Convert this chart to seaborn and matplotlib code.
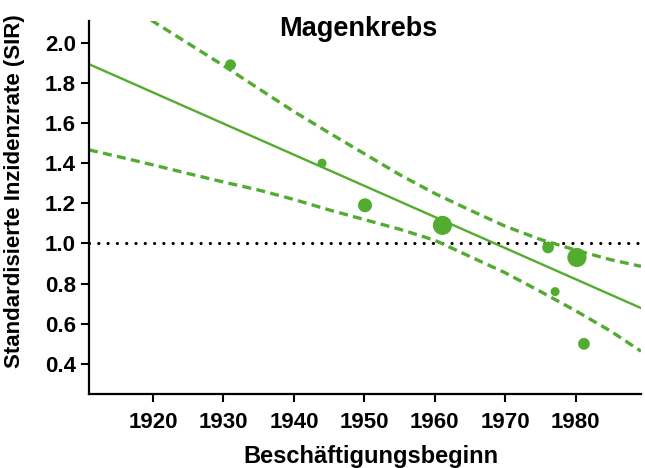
import matplotlib
matplotlib.use("Agg")
import matplotlib.pyplot as plt
import seaborn as sns
import pandas as pd

# Beobachtete SIR je Beschäftigungsbeginn (Punktgröße ~ Fallzahl)
jahr = [1931.0, 1944.0, 1950.1, 1961.1, 1976.1, 1980.2, 1977.1, 1981.2]
sir = [1.89, 1.40, 1.19, 1.09, 0.98, 0.93, 0.76, 0.50]
faelle = [6, 4, 10, 19, 7, 19, 4, 7]

# Regressionsgerade
fit_jahr = [1910.9, 1989.3]
fit_sir = [1.893, 0.678]

# obere / untere Konfidenzgrenze
ki_oben_jahr = [1918, 1925, 1930, 1935, 1940, 1945, 1950, 1955, 1960,
                1965, 1970, 1975, 1980, 1985, 1989.3]
ki_oben_sir = [2.15, 1.996, 1.886, 1.771, 1.657, 1.551, 1.447, 1.343, 1.249,
               1.166, 1.086, 1.020, 0.967, 0.919, 0.886]
ki_unten_jahr = [1910.9, 1915, 1920, 1925, 1930, 1935, 1940, 1945, 1950,
                 1955, 1960, 1965, 1970, 1975, 1980, 1985, 1989.3]
ki_unten_sir = [1.466, 1.433, 1.391, 1.348, 1.306, 1.266, 1.219, 1.167, 1.119,
                1.071, 1.016, 0.935, 0.854, 0.761, 0.665, 0.563, 0.463]

referenz = 1.0
y_ticks = [0.4, 0.6, 0.8, 1.0, 1.2, 1.4, 1.6, 1.8, 2.0]
x_ticks = [1920, 1930, 1940, 1950, 1960, 1970, 1980]

gruen = "#52AC30"

sns.set_style("ticks")
plt.rcParams["font.family"] = ["Liberation Sans", "DejaVu Sans"]
plt.rcParams["font.weight"] = "bold"
plt.rcParams["text.color"] = "black"
plt.rcParams["axes.labelcolor"] = "black"
plt.rcParams["xtick.color"] = "black"
plt.rcParams["ytick.color"] = "black"

fig = plt.figure(figsize=(6.45, 4.68), dpi=100)
ax = fig.add_axes([89 / 645, 74 / 468, 552 / 645, 373 / 468])

df = pd.DataFrame({"jahr": jahr, "sir": sir, "faelle": faelle})

ax.axhline(referenz, color="black", lw=2.3, linestyle=(0, (0.01, 2.9)),
           dash_capstyle="round", zorder=1)

sns.lineplot(x=fit_jahr, y=fit_sir, ax=ax, color=gruen, lw=1.7, zorder=2)
sns.lineplot(x=ki_oben_jahr, y=ki_oben_sir, ax=ax, color=gruen, lw=2.4,
             linestyle=(0, (2.7, 1.6)), zorder=2)
sns.lineplot(x=ki_unten_jahr, y=ki_unten_sir, ax=ax, color=gruen, lw=2.4,
             linestyle=(0, (2.7, 1.6)), zorder=2)

sns.scatterplot(data=df, x="jahr", y="sir", size="faelle", sizes=(42, 190),
                size_norm=(4, 19), color=gruen, edgecolor="none", alpha=1,
                legend=False, ax=ax, zorder=3)

ax.set_xlim(1910.9, 1989.3)
ax.set_ylim(0.25, 2.108)
ax.set_xticks(x_ticks)
ax.set_yticks(y_ticks)
ax.set_yticklabels([f"{v:.1f}" for v in y_ticks])

sns.despine(ax=ax)
for s in ["left", "bottom"]:
    ax.spines[s].set_linewidth(1.6)
    ax.spines[s].set_color("black")
ax.tick_params(axis="both", length=5.8, width=1.5, color="black",
               labelcolor="black", labelsize=16, pad=3.5)
ax.tick_params(axis="x", pad=7)
for lab in ax.get_xticklabels() + ax.get_yticklabels():
    lab.set_fontweight("bold")

ax.set_title("Magenkrebs", fontsize=19.5, fontweight="bold", pad=0, y=0.96,
             x=0.488, color="black")
ax.set_xlabel("Beschäftigungsbeginn", fontsize=17, fontweight="bold")
ax.set_ylabel("Standardisierte Inzidenzrate (SIR)", fontsize=16,
              fontweight="bold")
ax.xaxis.set_label_coords(0.51, -0.138)
ax.yaxis.set_label_coords(-0.116, 0.543)

fig.savefig("out.png", dpi=100)
